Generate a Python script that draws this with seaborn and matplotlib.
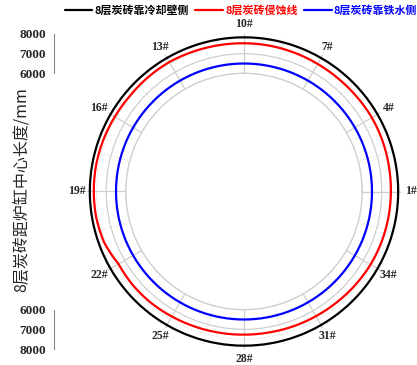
import numpy as np
import pandas as pd
import matplotlib
matplotlib.use("Agg")
import matplotlib.pyplot as plt
from matplotlib.ticker import FixedLocator
import seaborn as sns

# --------------------------------------------------
# DATA
# --------------------------------------------------

positions = [f"{i}#" for i in range(1, 37)]          # 36 measuring points, 10 deg apart
angles_deg = list(range(0, 360, 10))

cold_side = [7830] * 36                                # 8层炭砖靠冷却壁侧
erosion_line = [7460, 7470, 7490, 7500, 7480, 7470,
                7480, 7500, 7520, 7530, 7540, 7560,
                7590, 7580, 7560, 7580, 7610, 7630,
                7630, 7620, 7560, 7360, 7380, 7370,
                7330, 7300, 7280, 7270, 7270, 7290,
                7310, 7340, 7380, 7420, 7440, 7450]   # 8层炭砖侵蚀线
iron_side = [6500] * 36                                # 8层炭砖靠铁水侧

series_names = ["8层炭砖靠冷却壁侧", "8层炭砖侵蚀线", "8层炭砖靠铁水侧"]
series_colors = ["black", "red", "blue"]

tick_angles = list(range(0, 360, 30))
tick_labels = [positions[a // 10] for a in tick_angles]

# --------------------------------------------------
# LONG TABLE (closed loops)
# --------------------------------------------------

rows = []
for name, vals in zip(series_names, [cold_side, erosion_line, iron_side]):
    th = np.deg2rad(angles_deg + [360])
    rr = vals + [vals[0]]
    for t, r in zip(th, rr):
        rows.append({"theta": t, "r": r, "series": name})
df = pd.DataFrame(rows)

# --------------------------------------------------
# PLOT
# --------------------------------------------------

sns.set_style("white")
plt.rcParams["font.family"] = ["Noto Sans CJK SC", "DejaVu Sans"]

W, H = 417, 365
GRID = "#cfcfcf"
fig = plt.figure(figsize=(W / 100, H / 100), dpi=100)

cx, cy, R = 244, 191.5, 157.5
ax = fig.add_axes([(cx - R) / W, (H - cy - R) / H, 2 * R / W, 2 * R / H],
                  projection="polar")

sns.lineplot(
    data=df, x="theta", y="r", hue="series",
    palette=dict(zip(series_names, series_colors)),
    hue_order=series_names, sort=False, estimator=None,
    linewidth=1.6, ax=ax, legend=False
)
# follow the arcs between points instead of straight chords
for ln in ax.lines:
    ln.get_path()._interpolation_steps = 40

ax.set_rorigin(0)
ax.set_rlim(6000, 8000)
ax.set_yticks([6000, 7000])
ax.yaxis.set_minor_locator(FixedLocator([6500, 7500]))
ax.set_yticklabels([])
ax.set_xticks(np.deg2rad(tick_angles))
ax.set_xticklabels(tick_labels, family="Liberation Serif",
                   fontweight="bold", fontsize=8.5)
ax.xaxis.set_minor_locator(FixedLocator(np.deg2rad(np.arange(15, 360, 30))))
ax.tick_params(axis="x", which="both", length=0, pad=0)
ax.set_xlabel("")
ax.set_ylabel("")

ax.grid(True, which="major", color=GRID, linewidth=0.9, linestyle="-")
ax.grid(True, which="minor", color="#d8d8d8", linewidth=0.7, linestyle=":")
# polar draw() toggles these itself, so recolour instead of hiding
ax.spines["polar"].set_visible(False)
ax.spines["inner"].set_color(GRID)
ax.spines["inner"].set_linewidth(0.9)

# side radial axes (top and bottom)
for top in (True, False):
    if top:
        y0, y1 = cy - R, cy - R * 0.75
    else:
        y0, y1 = cy + R * 0.75, cy + R
    rax = fig.add_axes([54 / W, (H - y1) / H, 0.001, (y1 - y0) / H])
    rax.set_ylim((6000, 8000) if top else (8000, 6000))
    rax.set_yticks([6000, 7000, 8000])
    rax.yaxis.set_minor_locator(FixedLocator([6500, 7500]))
    rax.set_yticklabels(["6000", "7000", "8000"], family="Liberation Serif",
                        fontweight="bold", fontsize=9.5)
    rax.set_xticks([])
    rax.tick_params(axis="y", which="major", length=4, width=0.8,
                    color="#888888", pad=2)
    rax.tick_params(axis="y", which="minor", length=2, width=0.8,
                    color="#888888")
    for k in ("top", "right", "bottom"):
        rax.spines[k].set_visible(False)
    rax.spines["left"].set_color("#888888")
    rax.spines["left"].set_linewidth(0.8)
    rax.patch.set_visible(False)

fig.text(21 / W, 1 - 190 / H, "8层炭砖距炉缸中心长度/mm", rotation=90,
         ha="center", va="center", fontsize=11.5,
         family=["Noto Sans CJK SC", "DejaVu Sans"])

handles = [plt.Line2D([], [], color=c, linewidth=1.6) for c in series_colors]
leg = fig.legend(handles, series_names, loc="center",
                 bbox_to_anchor=(241 / W, 1 - 11 / H), ncol=3, frameon=False,
                 handlelength=2.5, handletextpad=0.2, columnspacing=0.6,
                 prop={"family": ["Noto Sans CJK SC", "DejaVu Sans"],
                       "weight": "bold", "size": 7.9})
for txt, c in zip(leg.get_texts(), series_colors):
    txt.set_color(c)

fig.savefig("out.png", dpi=100)
